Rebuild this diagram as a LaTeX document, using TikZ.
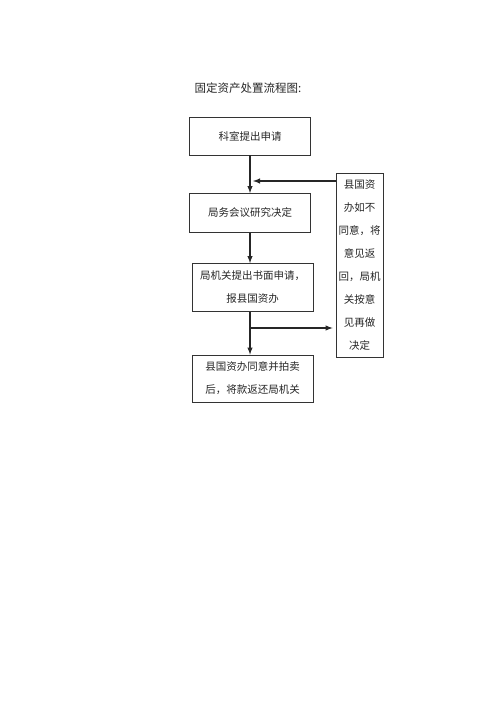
\documentclass[tikz,border=0pt]{standalone}
\usepackage{fontspec}
\newfontfamily\cjk{Noto Sans CJK SC}
\usetikzlibrary{positioning}
\tikzset{box/.style={draw=black!80, line width=0.8pt, minimum width=121pt, inner sep=0pt,
    align=center, text=black!85, font={\cjk\fontsize{10.5}{23}\selectfont}},
  arr/.style={line width=1.4pt, color=black!85, -latex}}

\begin{document}
\begin{tikzpicture}[x=1pt, y=-1pt]
\useasboundingbox (0,0) rectangle (500,708);
\node[text=black!85, font={\cjk\fontsize{11.5}{14}\selectfont}] (title) at (248,88) {固定资产处置流程图:};
\node[box, minimum height=38pt] (ke) at (250,136) {科室提出申请};
\node[box, minimum height=39pt] (hui) at (250,213) {局务会议研究决定};
\node[box, minimum height=48pt] (sq) at (252.5,287.5) {局机关提出书面申请，\\报县国资办};
\node[box, minimum height=47pt] (pm) at (252.5,378.5) {县国资办同意并拍卖\\后，将款返还局机关};
\node[box, minimum width=47pt, minimum height=184pt] (yj) at (359.5,265)
  {县国资\\办如不\\同意，将\\意见返\\回，局机\\关按意\\见再做\\决定};
\coordinate (fk) at (253,181);
\coordinate (fz) at (251,328);
\draw[arr] (ke) -- (hui);
\draw[arr] (hui.south) -- (hui.south |- sq.north);
\draw[arr] (hui.south |- sq.south) -- (hui.south |- pm.north);
\draw[arr] (yj.west |- fk) -- (fk);
\draw[arr, shorten >=3pt] (fz) -- (yj.west |- fz);
\end{tikzpicture}
\end{document}
